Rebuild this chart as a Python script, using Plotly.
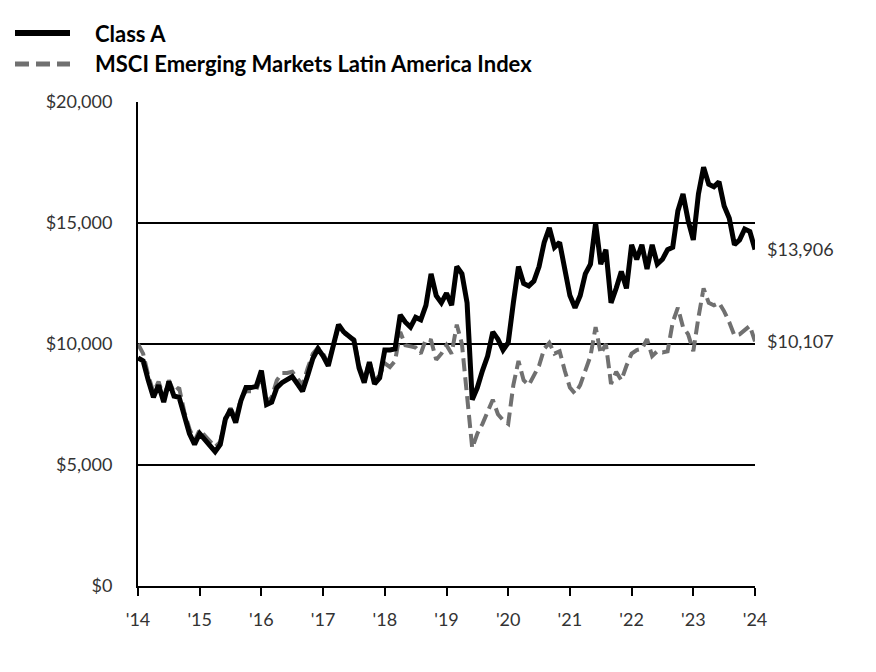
import plotly.graph_objects as go

# ---- data (monthly from Jan 2014 to Jan 2024) ----
class_a = [9430, 9300, 8500, 7800, 8300, 7600, 8450, 7850, 7800, 7000, 6300, 5850,
           6300, 6050, 5800, 5550, 5850, 6900, 7300, 6750, 7650, 8200, 8200, 8250,
           8900, 7500, 7600, 8200, 8400, 8500, 8650, 8350, 8050, 8700, 9400, 9800,
           9500, 9100, 10000, 10800, 10500, 10300, 10150, 9000, 8400, 9250, 8350, 8600,
           9750, 9750, 9800, 11200, 10900, 10700, 11100, 11000, 11600, 12900, 12000, 11700,
           12100, 11600, 13200, 12900, 11700, 7700, 8200, 8900, 9500, 10500, 10200, 9750,
           10050, 11700, 13200, 12500, 12400, 12600, 13200, 14200, 14800, 14000, 14200, 13100,
           12000, 11500, 12000, 12900, 13300, 15000, 13300, 13900, 11700, 12300, 13000, 12300,
           14100, 13500, 14100, 13100, 14100, 13300, 13500, 13900, 14000, 15500, 16200, 15100,
           14300, 16200, 17300, 16600, 16500, 16700, 15700, 15200, 14100, 14300, 14750, 14650,
           13906]
msci = [10000, 9600, 8700, 8000, 8450, 7800, 8500, 8000, 8200, 7200, 6500, 6000,
        6450, 6200, 5950, 5750, 5950, 6950, 7350, 6900, 7750, 8050, 8050, 8100,
        8700, 7600, 7800, 8500, 8800, 8800, 8850, 8600, 8300, 9000, 9600, 9850,
        9600, 9200, 10000, 10700, 10450, 10300, 10200, 9100, 8500, 9300, 8500, 8700,
        9200, 9050, 9300, 10500, 9950, 9900, 9850, 9600, 10200, 10150, 9350, 9600,
        9950, 9600, 10800, 10000, 8000, 5700, 6300, 6700, 7200, 7700, 7100, 6850,
        6700, 8300, 9300, 8500, 8300, 8700, 9100, 9800, 10050, 9600, 9700, 8900,
        8200, 7950, 8300, 8900, 9500, 10700, 9600, 10000, 8350, 8850, 8500, 9100,
        9600, 9750, 9800, 10200, 9500, 9700, 9650, 9700, 10900, 11500, 10700, 10400,
        9700, 11100, 12300, 11700, 11600, 11700, 11350, 10900, 10350, 10400, 10600, 10750,
        10107]
months = [2014 + i / 12 for i in range(len(class_a))]
years = list(range(2014, 2025))
year_labels = ["'" + str(y)[2:] for y in years]
y_ticks = [0, 5000, 10000, 15000, 20000]
y_tick_labels = ["$0", "$5,000", "$10,000", "$15,000", "$20,000"]
series_names = ["Class A", "MSCI Emerging Markets Latin America Index"]
end_labels = ["$13,906", "$10,107"]

W, H = 876, 672
L, R, T, B = 138, 755, 102, 586
FONT = "Lato"
BLACK = "#000000"
GRAY = "#707070"

fig = go.Figure()
fig.add_trace(go.Scatter(x=months, y=msci, mode="lines", name=series_names[1],
                         line=dict(color=GRAY, width=4, dash="13px,6px"),
                         showlegend=False))
fig.add_trace(go.Scatter(x=months, y=class_a, mode="lines", name=series_names[0],
                         line=dict(color=BLACK, width=5), showlegend=False))

def px_x(p):
    return (p - L) / (R - L)

def px_y(p):
    return (B - p) / (B - T)

shapes = [
    dict(type="line", xref="paper", yref="paper", x0=px_x(15), x1=px_x(70),
         y0=px_y(33), y1=px_y(33), line=dict(color=BLACK, width=6)),
    dict(type="line", xref="paper", yref="paper", x0=px_x(15), x1=px_x(70),
         y0=px_y(64), y1=px_y(64), line=dict(color=GRAY, width=5, dash="14px,7px")),
]
annotations = [
    dict(xref="paper", yref="paper", x=px_x(93), y=px_y(33), text="<b>%s</b>" % series_names[0],
         showarrow=False, xanchor="left", yanchor="middle",
         font=dict(family=FONT, size=22, color=BLACK)),
    dict(xref="paper", yref="paper", x=px_x(93), y=px_y(64), text="<b>%s</b>" % series_names[1],
         showarrow=False, xanchor="left", yanchor="middle",
         font=dict(family=FONT, size=22, color=BLACK)),
    dict(x=months[-1], y=class_a[-1], xref="x", yref="y", text=end_labels[0], showarrow=False,
         xanchor="left", yanchor="middle", xshift=10,
         font=dict(family=FONT, size=18, color="#333333")),
    dict(x=months[-1], y=msci[-1], xref="x", yref="y", text=end_labels[1], showarrow=False,
         xanchor="left", yanchor="middle", xshift=10,
         font=dict(family=FONT, size=18, color="#333333")),
]

fig.update_layout(
    width=W, height=H,
    margin=dict(l=L, r=W - R, t=T, b=H - B, pad=0),
    plot_bgcolor="white", paper_bgcolor="white",
    font=dict(family=FONT, size=18, color="#333333"),
    shapes=shapes, annotations=annotations,
    showlegend=False,
    xaxis=dict(range=[2014, 2024], tickmode="array", tickvals=years, ticktext=year_labels,
               showgrid=False, zeroline=False, showline=True, linecolor=BLACK, linewidth=2,
               ticks="outside", ticklen=8, tickwidth=2, tickcolor=BLACK,
               tickfont=dict(family=FONT, size=18, color="#333333"), ticklabelstandoff=8),
    yaxis=dict(range=[0, 20000], tickmode="array", tickvals=y_ticks, ticktext=y_tick_labels,
               showgrid=True, gridcolor=BLACK, gridwidth=2, zeroline=False,
               showline=True, linecolor=BLACK, linewidth=2, ticks="",
               tickfont=dict(family=FONT, size=18, color="#333333"), ticklabelstandoff=20),
)

fig.write_html("out.html")
